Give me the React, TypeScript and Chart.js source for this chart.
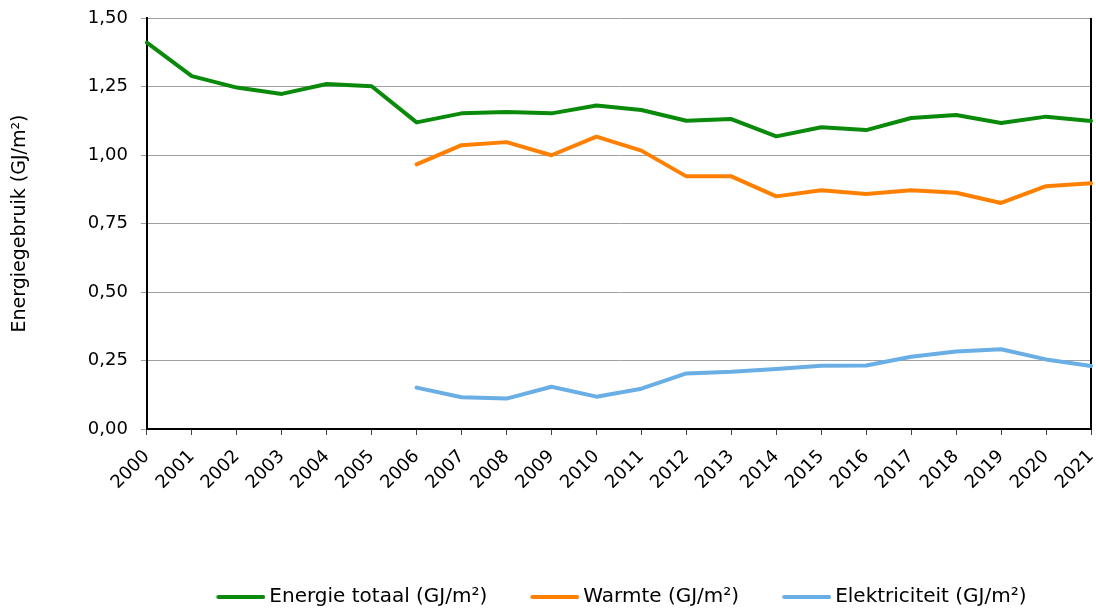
import React, { useEffect, useRef } from 'react';
import { Chart, registerables } from 'chart.js';

Chart.register(...registerables);

const years = ['2000', '2001', '2002', '2003', '2004', '2005', '2006', '2007', '2008', '2009', '2010', '2011', '2012', '2013', '2014', '2015', '2016', '2017', '2018', '2019', '2020', '2021'];
const energieTotaal = [1.41, 1.288, 1.246, 1.223, 1.259, 1.251, 1.119, 1.152, 1.157, 1.152, 1.181, 1.164, 1.125, 1.131, 1.068, 1.101, 1.091, 1.135, 1.146, 1.117, 1.14, 1.124];
const warmte = [null, null, null, null, null, null, 0.966, 1.036, 1.047, 0.999, 1.067, 1.016, 0.922, 0.922, 0.849, 0.871, 0.858, 0.871, 0.862, 0.825, 0.886, 0.897];
const elektriciteit = [null, null, null, null, null, null, 0.151, 0.116, 0.111, 0.154, 0.118, 0.147, 0.203, 0.209, 0.219, 0.231, 0.232, 0.264, 0.283, 0.291, 0.254, 0.23];
const seriesLabels = ['Energie totaal (GJ/m²)', 'Warmte (GJ/m²)', 'Elektriciteit (GJ/m²)'];
const seriesColors = ['#0a8a0a', '#ff8000', '#6aaee6'];
const yAxisTitle = 'Energiegebruik (GJ/m²)';
const yMin = 0;
const yMax = 1.5;
const yStep = 0.25;

const FONT = "'DejaVu Sans', Verdana, sans-serif";

function makeSwatch(color: string): HTMLCanvasElement {
  const c = document.createElement('canvas');
  c.width = 60;
  c.height = 6;
  const ctx = c.getContext('2d')!;
  ctx.strokeStyle = color;
  ctx.lineWidth = 4;
  ctx.lineCap = 'round';
  ctx.beginPath();
  ctx.moveTo(13, 3);
  ctx.lineTo(58, 3);
  ctx.stroke();
  return c;
}

const rightBorder = {
  id: 'rightBorder',
  beforeDatasetsDraw(chart: any) {
    const { ctx, chartArea } = chart;
    ctx.save();
    ctx.strokeStyle = '#000';
    ctx.lineWidth = 2;
    ctx.beginPath();
    ctx.moveTo(chartArea.right, chartArea.top);
    ctx.lineTo(chartArea.right, chartArea.bottom);
    ctx.stroke();
    ctx.restore();
  },
};

export default function App() {
  const ref = useRef<HTMLCanvasElement | null>(null);

  useEffect(() => {
    if (!ref.current) return;
    const series = [energieTotaal, warmte, elektriciteit];
    const chart = new Chart(ref.current, {
      type: 'line',
      data: {
        labels: years,
        datasets: series.map((d, i) => ({
          label: seriesLabels[i],
          data: d,
          borderColor: seriesColors[i],
          backgroundColor: seriesColors[i],
          borderWidth: 4,
          pointRadius: 0,
          pointHoverRadius: 0,
          pointStyle: makeSwatch(seriesColors[i]),
          tension: 0,
          fill: false,
          spanGaps: false,
          borderJoinStyle: 'round',
          borderCapStyle: 'round',
        })),
      },
      options: {
        animation: false,
        responsive: true,
        maintainAspectRatio: false,
        layout: { padding: { top: 18, right: 5, bottom: -8, left: 4 } },
        plugins: {
          legend: {
            position: 'bottom',
            fullSize: false,
            labels: {
              usePointStyle: true,
              boxWidth: 48,
              pointStyleWidth: 48,
              padding: 38,
              color: '#000',
              font: { family: FONT, size: 20 },
            },
          },
          tooltip: { enabled: false },
        },
        scales: {
          x: {
            type: 'category',
            offset: false,
            grid: { drawOnChartArea: false, drawTicks: true, tickLength: 6, color: '#444' },
            border: { color: '#000', width: 2 },
            ticks: {
              autoSkip: false,
              maxRotation: 45,
              minRotation: 45,
              padding: 11,
              color: '#000',
              font: { family: FONT, size: 18 },
            },
            afterFit: (s: any) => {
              s.height = 120;
              s.paddingLeft = 0;
              s.paddingRight = 0;
            },
          },
          y: {
            min: yMin,
            max: yMax,
            grid: { color: '#a0a0a0', tickLength: 6, lineWidth: 1 },
            border: { color: '#000', width: 2 },
            ticks: {
              stepSize: yStep,
              padding: 13,
              color: '#000',
              font: { family: FONT, size: 18 },
              callback: (v: any) => Number(v).toFixed(2).replace('.', ','),
            },
            title: {
              display: true,
              text: yAxisTitle,
              color: '#000',
              font: { family: FONT, size: 19 },
              padding: { top: 5, bottom: 43 },
            },
            afterFit: (s: any) => {
              s.paddingTop = 0;
              s.paddingBottom = 0;
            },
          },
        },
      },
      plugins: [rightBorder],
    } as any);
    return () => chart.destroy();
  }, []);

  return (
    <div style={{ position: 'fixed', left: 0, top: 0, width: 1096, height: 609 }}>
      <canvas ref={ref} />
    </div>
  );
}
